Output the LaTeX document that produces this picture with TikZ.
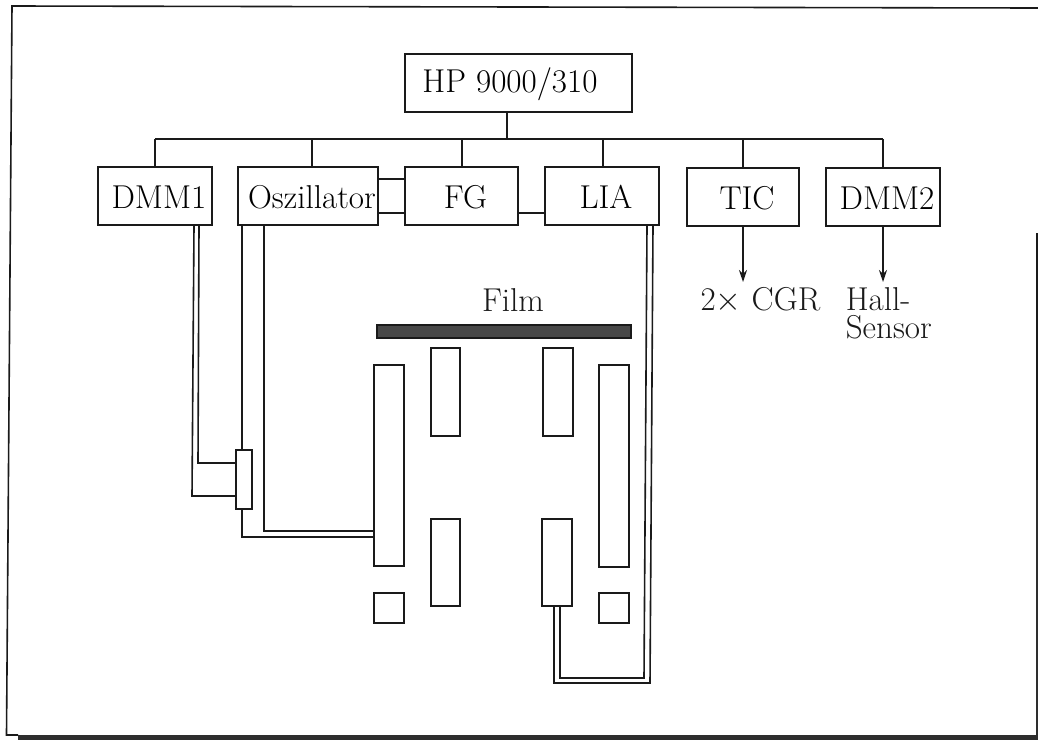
\documentclass[tikz,border=0pt]{standalone}
\usepackage{fontspec}
\usetikzlibrary{arrows.meta}
\definecolor{ink}{HTML}{1A1A1A}
\definecolor{band}{HTML}{2E2E2E}
\definecolor{filmgrey}{HTML}{484848}
\tikzset{
  every picture/.style={line width=1.2pt},
  unit box/.style 2 args={draw=ink,inner sep=0pt,minimum width=#1*0.75pt,minimum height=#2*0.75pt},
  device/.style={font=\fontsize{24.8}{27}\selectfont,text height=18.8pt,text depth=0pt},
  caption/.style={font=\fontsize{24.8}{21}\selectfont,anchor=base,inner sep=0pt,text=ink},
  wire/.style={draw=ink,line join=miter},
  pointer/.style={draw=ink,-{Stealth[length=9pt,width=6pt]}},
}
\newcommand\pad[1]{\hspace*{6pt}#1}
\begin{document}
\begin{tikzpicture}[x=0.75pt,y=-0.75pt]
\useasboundingbox (0,0) rectangle (1038,740);
% page frame
\fill[white] (0,0) rectangle (1038,740);
\draw[draw=ink] (1038,8) -- (12,6) -- (6.5,735) -- (18,735);
\fill[band] (18,735) rectangle (1038,740);
\draw[draw=ink] (1037,233) -- (1037,480);
\fill[band] (1036,480) rectangle (1038,740);
% devices
\node[unit box={227}{58},device,text height=13.5pt] (HP) at (518.5,83) {HP 9000/310\hspace*{12.8pt}};
\node[unit box={114}{58},device] (DMM1) at (155,196) {\pad{DMM1}};
\node[unit box={140}{58},device] (OSC) at (308,196) {\pad{Oszillator}};
\node[unit box={113}{58},device] (FG) at (461.5,196) {\pad{FG}};
\node[unit box={114}{58},device] (LIA) at (602,196) {\pad{LIA}};
\node[unit box={112}{58},device] (TIC) at (743,197) {\pad{TIC}};
\node[unit box={114}{58},device] (DMM2) at (883,197) {\pad{DMM2}};
% bus
\coordinate (busL) at (155,139);
\coordinate (busR) at (883,139);
\coordinate (busHP) at (507,139);
\coordinate (busOSC) at (312,139);
\coordinate (busFG) at (462,139);
\coordinate (busLIA) at (603,139);
\draw[wire] (busL) -- (busR);
\draw[wire] (busHP |- HP.south) -- (busHP);
\draw[wire] (DMM1.north) -- (DMM1.north |- busL);
\draw[wire] (busOSC |- OSC.north) -- (busOSC);
\draw[wire] (busFG |- FG.north) -- (busFG);
\draw[wire] (busLIA |- LIA.north) -- (busLIA);
\draw[wire] (TIC.north) -- (TIC.north |- busL);
\draw[wire] (DMM2.north) -- (DMM2.north |- busL);
% links between devices
\coordinate (linkA) at (391,179);
\coordinate (linkB) at (391,213);
\draw[wire] (linkA -| OSC.east) -- (linkA -| FG.west);
\draw[wire] (linkB -| OSC.east) -- (linkB -| FG.west);
\draw[wire] (linkB -| FG.east) -- (linkB -| LIA.west);
% outputs
\node[caption] (CGR) at (760.5,310) {2$\times$ CGR};
\node[caption,align=left,anchor=base west] (HALL) at (845,338) {Hall-\\Sensor};
\coordinate (tipA) at (743,282);
\coordinate (tipB) at (883,282);
\draw[pointer] (TIC.south) -- (tipA);
\draw[pointer] (DMM2.south) -- (tipB);
% film
\node[caption] (FILMT) at (513,311) {Film};
\node[unit box={254}{13},fill=filmgrey] (FILM) at (504,331.5) {};
% coils and pads
\node[unit box={30}{201}] (COILL) at (389,465.5) {};
\node[unit box={30}{202}] (COILR) at (614,466) {};
\node[unit box={29}{88}] (UL) at (445.5,392) {};
\node[unit box={30}{88}] (UR) at (558,392) {};
\node[unit box={29}{87}] (LL) at (445.5,562.5) {};
\node[unit box={30}{87}] (LR) at (557,562.5) {};
\node[unit box={30}{30}] (PADL) at (389,608) {};
\node[unit box={30}{30}] (PADR) at (614,608) {};
\node[unit box={16}{59}] (MUX) at (244,479.5) {};
% DMM1 to the small box
\coordinate (d1) at (198,463);
\coordinate (d2) at (192,496);
\draw[wire] (199,0 |- DMM1.south) -- (d1) -- (d1 -| MUX.west);
\draw[wire] (194,0 |- DMM1.south) -- (d2) -- (d2 -| MUX.west);
% oscillator to the left coil
\coordinate (o1) at (242,537);
\coordinate (o2) at (264,531);
\draw[wire] (o1 |- OSC.south) -- (o1 |- MUX.north);
\draw[wire] (o1 |- MUX.south) -- (o1) -- (o1 -| COILL.west);
\draw[wire] (o2 |- OSC.south) -- (o2) -- (o2 -| COILL.west);
% lock-in to the lower right coil
\coordinate (l1) at (560,678);
\coordinate (l2) at (554,683);
\coordinate (l3) at (644,678);
\coordinate (l4) at (650,683);
\coordinate (l5) at (647,225);
\coordinate (l6) at (653,225);
\draw[wire] (l1 |- LR.south) -- (l1) -- (l3) -- (l5 |- LIA.south);
\draw[wire] (l2 |- LR.south) -- (l2) -- (l4) -- (l6 |- LIA.south);
\end{tikzpicture}
\end{document}
